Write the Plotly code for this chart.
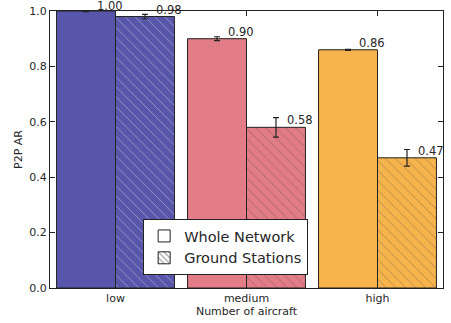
import plotly.graph_objects as go

categories = ["low", "medium", "high"]
whole_values = [1.00, 0.90, 0.86]
whole_errors = [0.002, 0.007, 0.002]
ground_values = [0.98, 0.58, 0.47]
ground_errors = [0.008, 0.035, 0.03]
colors = ["#5856aa", "#e27c86", "#f7b34c"]
y_ticks = [0.0, 0.2, 0.4, 0.6, 0.8, 1.0]

xpos = list(range(len(categories)))
W = 0.45
font = "DejaVu Sans, sans-serif"

fig = go.Figure()
fig.add_trace(go.Bar(
    x=xpos, y=whole_values, width=W, offset=-W,
    marker=dict(color=colors, line=dict(color="#222222", width=1)),
    error_y=dict(type="data", array=whole_errors, color="#222222", thickness=1.2, width=3),
    showlegend=False,
))
fig.add_trace(go.Bar(
    x=xpos, y=ground_values, width=W, offset=0,
    marker=dict(color=colors, line=dict(color="#222222", width=1),
                pattern=dict(shape="\\", fgcolor="rgba(255,255,255,0.16)", size=7, solidity=0.1)),
    error_y=dict(type="data", array=ground_errors, color="#222222", thickness=1.2, width=3),
    showlegend=False,
))
# legend entries
fig.add_trace(go.Bar(
    x=[None], y=[None], name="Whole Network",
    marker=dict(color="white", line=dict(color="#222222", width=1)),
))
fig.add_trace(go.Bar(
    x=[None], y=[None], name="Ground Stations",
    marker=dict(color="white", line=dict(color="#222222", width=1),
                pattern=dict(shape="\\", fgcolor="#444444", size=5, solidity=0.3)),
))

for i in xpos:
    for v, off in ((whole_values[i], -W / 2), (ground_values[i], W / 2)):
        fig.add_annotation(
            x=i + off, y=v, text=f"{v:.2f}", showarrow=False,
            xanchor="left", yanchor="middle", xshift=9,
            yshift=5.5 if v >= 0.995 else 7,
            font=dict(family=font, size=11.5, color="#262626"),
        )

fig.update_layout(
    width=451, height=323,
    margin=dict(l=50, r=8, t=11, b=35, autoexpand=False),
    barmode="overlay",
    plot_bgcolor="white", paper_bgcolor="white",
    font=dict(family=font, size=11, color="#262626"),
    legend=dict(
        x=0.237, y=0.249, xanchor="left", yanchor="top",
        bgcolor="white", bordercolor="#222222", borderwidth=1,
        font=dict(family=font, size=14.5, color="#262626"),
        itemwidth=30, tracegroupgap=0,
    ),
)
fig.update_xaxes(
    range=[-0.5, 2.5], tickvals=xpos, ticktext=categories,
    ticks="inside", ticklen=5, tickcolor="#222222", mirror="ticks",
    showline=True, linecolor="#222222", linewidth=1, showgrid=False, zeroline=False,
    automargin=False,
    title=dict(text="Number of aircraft", standoff=2, font=dict(size=11)),
)
fig.update_yaxes(
    range=[0, 1.0], tickvals=y_ticks, tickformat=".1f",
    ticks="inside", ticklen=5, tickcolor="#222222", mirror="ticks",
    showline=True, linecolor="#222222", linewidth=1, showgrid=False, zeroline=False,
    automargin=False,
    title=dict(text="P2P AR", standoff=4, font=dict(size=11)),
)

fig.write_html(
    "out.html",
    config={"displayModeBar": False},
    post_script="document.body.style.margin='0';document.body.style.overflow='hidden';",
)
